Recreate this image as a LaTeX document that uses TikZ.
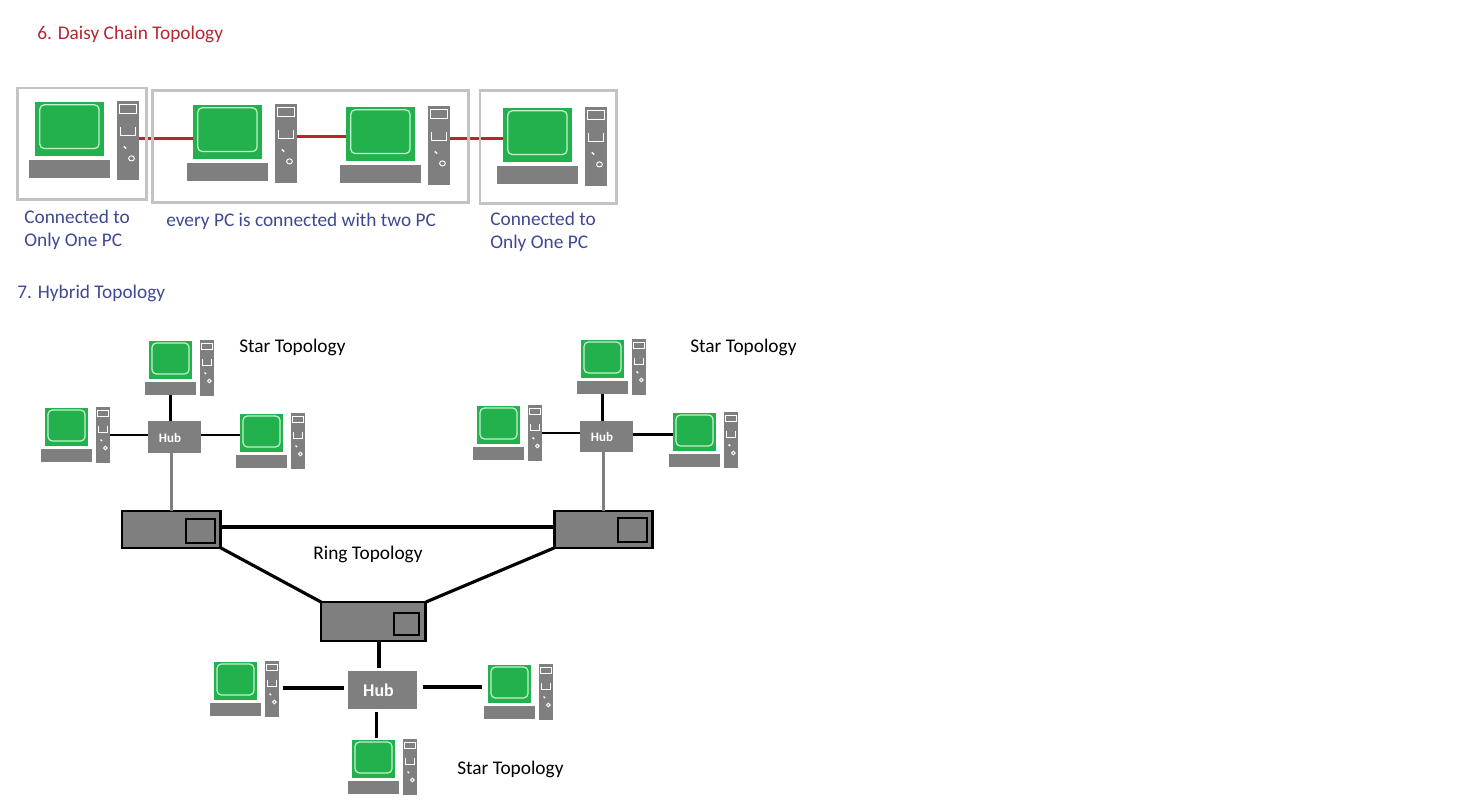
\documentclass[tikz,border=0pt]{standalone}
\usepackage{fontspec}
\setsansfont{Carlito}
\usetikzlibrary{positioning,calc}
\definecolor{pcgreen}{HTML}{22B14C}
\definecolor{pclight}{HTML}{C4F2D0}
\definecolor{pcgray}{HTML}{7F7F7F}
\definecolor{framegray}{HTML}{C3C3C3}
\definecolor{linkred}{HTML}{B5262F}
\definecolor{textblue}{HTML}{3F4893}
\tikzset{
  pcscreen/.style={fill=pcgreen,transform shape,inner sep=0pt,outer sep=0pt,anchor=north west,minimum width=0.86cm,minimum height=0.76cm},
  pckeys/.style={fill=pcgray,transform shape,inner sep=0pt,outer sep=0pt,anchor=north west,minimum width=1.02cm,minimum height=0.26cm},
  pctower/.style={fill=pcgray,transform shape,inner sep=0pt,outer sep=0pt,anchor=north west,minimum width=0.28cm,minimum height=1.12cm},
  pcset/.pic={
    \node[pcscreen] (-scr) at (0,0) {};
    \node[pckeys] (-keys) at (-4,41) {};
    \node[pctower] (-tower) at (51,-1) {};
    \draw[pclight,line width=0.7pt,rounded corners=2.5pt] (3,2) rectangle (40,33);
    \draw[white,line width=0.55pt] (52.5,2) rectangle (63.5,8);
    \draw[white,line width=0.55pt] (53.5,18) -- (53.5,24) -- (62.5,24) -- (62.5,18);
    \draw[white,line width=0.8pt] (55.5,31.5) -- (57,33);
    \draw[white,line width=0.55pt] (60.3,40) circle (1.8);
  }
}
\begin{document}
\begin{tikzpicture}[x=0.02cm,y=-0.02cm,every node/.style={font=\sffamily\fontsize{11pt}{13pt}\selectfont,align=left,inner sep=0pt},bigpc/.style={xscale=1.6,yscale=1.41},frame/.style={draw=framegray,line width=1.7pt,inner sep=0pt,outer sep=0pt,anchor=north west},redlink/.style={draw=linkred,line width=1.7pt},wire/.style={draw=black,line width=1.8pt},thinwire/.style={draw=black,line width=1.3pt},hub/.style={fill=pcgray,text=white,inner sep=0pt,outer sep=0pt,anchor=north west},ringbox/.style={fill=pcgray,draw=black,line width=1.7pt,inner sep=0pt,outer sep=0pt,anchor=north west},port/.style={draw=black,line width=1.5pt,inner sep=0pt,outer sep=0pt,anchor=north west},bluetext/.style={text=textblue,anchor=west},blacktext/.style={text=black,anchor=west}]
\useasboundingbox (0,0) rectangle (1484,800);
% daisy chain
\node[text=linkred,anchor=west] (title6) at (37,34) {6. Daisy Chain Topology};
\pic[bigpc] (d1) at (35,102) {pcset};
\pic[bigpc] (d2) at (193,105) {pcset};
\pic[bigpc] (d3) at (346,107) {pcset};
\pic[bigpc] (d4) at (503,108) {pcset};
\draw[redlink] ([yshift=0.9pt]d1-tower.east) -- ([yshift=0.9pt]d1-tower.east -| d2-scr.west);
\draw[redlink] ([yshift=3.7pt]d2-tower.east) -- ([yshift=3.7pt]d2-tower.east -| d3-scr.west);
\draw[redlink] ([yshift=3.7pt]d3-tower.east) -- ([yshift=3.7pt]d3-tower.east -| d4-scr.west);
\node[frame,minimum width=2.58cm,minimum height=2.24cm] (fr1) at (17.5,88) {};
\node[frame,minimum width=6.32cm,minimum height=2.24cm] (fr2) at (152.5,90.5) {};
\node[frame,minimum width=2.74cm,minimum height=2.26cm] (fr3) at (480,90.5) {};
\node[bluetext] (only1) at (24,230) {Connected to\\Only One PC};
\node[bluetext] (every) at (166,221.5) {every PC is connected with two PC};
\node[bluetext] (only2) at (490,232) {Connected to\\Only One PC};
% hybrid
\node[bluetext] (title7) at (17,293.5) {7. Hybrid Topology};
\node[blacktext] (starA) at (239,347.5) {Star Topology};
\node[blacktext] (starB) at (690,347.5) {Star Topology};
\node[blacktext] (starC) at (457,769.5) {Star Topology};
\node[blacktext] (ringtxt) at (313,554.5) {Ring Topology};
% left star
\pic (a1) at (149,341) {pcset};
\pic (a2) at (45,408) {pcset};
\pic (a3) at (240,414) {pcset};
\node[hub,minimum width=1.06cm,minimum height=0.64cm] (hubA) at (148,421) {};
\node[text=white,font=\sffamily\bfseries\fontsize{7.4pt}{9pt}\selectfont] (hubAtxt) at (170,438) {Hub};
% right star
\pic (b1) at (581,340) {pcset};
\pic (b2) at (477,406) {pcset};
\pic (b3) at (673,413) {pcset};
\node[hub,minimum width=1.06cm,minimum height=0.62cm] (hubB) at (580,421) {};
\node[text=white,font=\sffamily\bfseries\fontsize{7.4pt}{9pt}\selectfont] (hubBtxt) at (602,437) {Hub};
% bottom star
\pic (c1) at (214,662) {pcset};
\pic (c2) at (488,665) {pcset};
\pic (c3) at (352,740) {pcset};
\node[hub,minimum width=1.38cm,minimum height=0.76cm] (hubC) at (348,671) {};
\node[text=white,font=\sffamily\bfseries\fontsize{10.2pt}{12pt}\selectfont] (hubCtxt) at (378.5,690) {Hub};
% ring
\node[ringbox,minimum width=1.98cm,minimum height=0.74cm] (ringA) at (122,511) {};
\node[ringbox,minimum width=1.98cm,minimum height=0.74cm] (ringB) at (554,511) {};
\node[ringbox,minimum width=2.10cm,minimum height=0.78cm] (ringC) at (321,602) {};
\node[port,minimum width=0.58cm,minimum height=0.48cm] (portA) at (186,519) {};
\node[port,minimum width=0.58cm,minimum height=0.48cm] (portB) at (618,518) {};
\node[port,minimum width=0.50cm,minimum height=0.44cm] (portC) at (394,613) {};
\draw[wire] ([yshift=1.4pt]ringA.east) -- ([yshift=1.4pt]ringB.west);
\draw[wire] (ringA.south east) -- (ringC.north west);
\draw[wire] (ringB.south west) -- (ringC.north east);
% star links
\draw[wire] (hubA.north -| a1-keys.south) -- (a1-keys.south);
\draw[thinwire] (a2-tower.east) -- (a2-tower.east -| hubA.west);
\draw[thinwire] ([yshift=1.1pt]hubA.east) -- ([yshift=1.1pt]hubA.east -| a3-scr.west);
\draw[draw=pcgray,line width=1.7pt] (hubA.south -| ringA.north) -- (ringA.north);
\draw[wire] (hubB.north -| b1-keys.south) -- (b1-keys.south);
\draw[thinwire] (b2-tower.east) -- (b2-tower.east -| hubB.west);
\draw[thinwire] ([yshift=1.1pt]hubB.east) -- ([yshift=1.1pt]hubB.east -| b3-scr.west);
\draw[draw=pcgray,line width=1.7pt] (hubB.south -| ringB.north) -- (ringB.north);
\draw[wire,shorten >=1.7pt] ([xshift=-2pt]hubC.north |- ringC.south) -- ([xshift=-2pt]hubC.north);
\draw[wire,shorten <=2.3pt,shorten >=2.3pt] ([yshift=0.6pt]c1-tower.east) -- ([yshift=0.6pt]c1-tower.east -| hubC.west);
\draw[wire,shorten <=3.4pt,shorten >=3.4pt] ([yshift=1.7pt]hubC.east) -- ([yshift=1.7pt]hubC.east -| c2-scr.west);
\draw[wire,shorten <=1.7pt,shorten >=1.1pt] ([xshift=-3.4pt]hubC.south) -- ([xshift=-3.4pt]hubC.south |- c3-scr.north);
\end{tikzpicture}
\end{document}
